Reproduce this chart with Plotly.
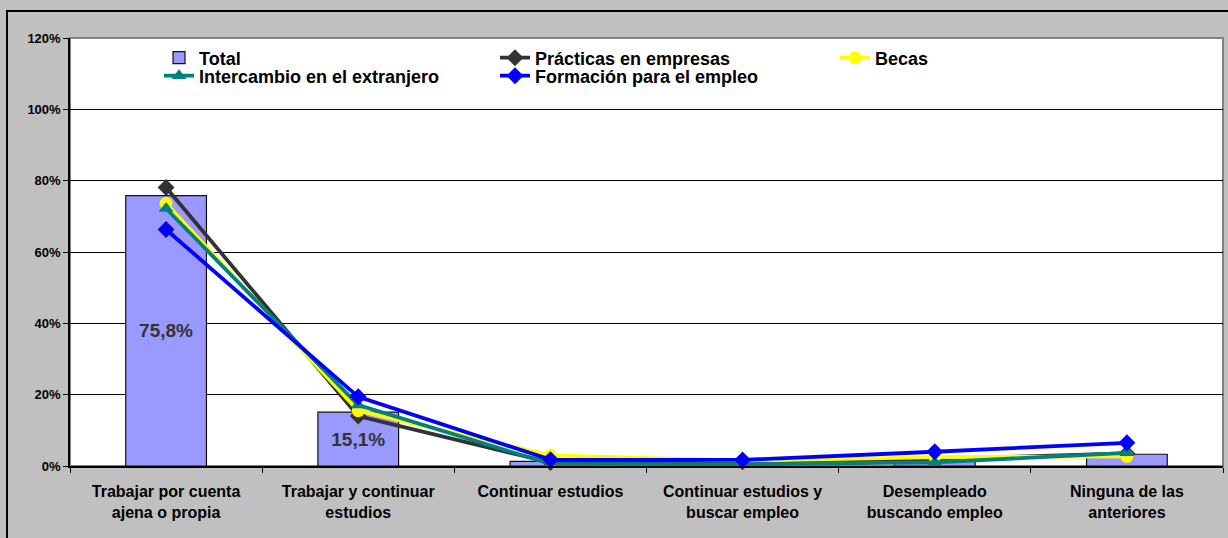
import plotly.graph_objects as go

categories = ["Trabajar por cuenta<br>ajena o propia", "Trabajar y continuar<br>estudios",
              "Continuar estudios", "Continuar estudios y<br>buscar empleo",
              "Desempleado<br>buscando empleo", "Ninguna de las<br>anteriores"]
total = [0.758, 0.151, 0.013, 0.008, 0.017, 0.033]
total_labels = ["75,8%", "15,1%", "", "", "", ""]
practicas = [0.781, 0.140, 0.010, 0.012, 0.020, 0.035]
becas = [0.736, 0.155, 0.030, 0.015, 0.025, 0.027]
intercambio = [0.722, 0.171, 0.006, 0.005, 0.010, 0.037]
formacion = [0.663, 0.194, 0.018, 0.017, 0.040, 0.065]

FONT = "Liberation Sans, Arial"
W, H = 1228, 538
L, R, T, B = 70, 5, 38, 72
PW, PH = W - L - R, H - T - B


def px_x(px):
    return (px - L) / PW


def px_y(py):
    return 1 - (py - T) / PH


fig = go.Figure()
fig.add_trace(go.Bar(
    x=categories, y=total, name="<b>Total</b>", width=0.42, legend="legend",
    marker=dict(color="#9999FF", line=dict(color="#111111", width=1.2)),
    text=total_labels, texttemplate="<b>%{text}</b>",
    textposition="inside", insidetextanchor="middle",
    textfont=dict(family=FONT, size=19, color="#333333"),
    textangle=0,
))
lines = [
    ("Prácticas en empresas", practicas, "#333333", "diamond", "legend2"),
    ("Becas", becas, "#FFFF00", "circle", "legend3"),
    ("Intercambio en el extranjero", intercambio, "#008080", "triangle-up", "legend4"),
    ("Formación para el empleo", formacion, "#0000FF", "diamond", "legend5"),
]
for name, vals, col, sym, lg in lines:
    fig.add_trace(go.Scatter(
        x=categories, y=vals, name="<b>" + name + "</b>", mode="lines+markers",
        line=dict(color=col, width=3.8),
        marker=dict(symbol=sym, size=13, color=col),
        cliponaxis=False, legend=lg,
    ))

# legend positions (text left edge, row centre) in pixels
legend_pos = {
    "legend": (159, 58), "legend2": (495, 58), "legend3": (835, 58),
    "legend4": (159, 76), "legend5": (495, 76),
}
legend_layout = {}
for key, (lx, ly) in legend_pos.items():
    legend_layout[key] = dict(
        x=px_x(lx), y=px_y(ly), xanchor="left", yanchor="middle",
        bgcolor="rgba(0,0,0,0)", borderwidth=0,
        font=dict(family=FONT, size=18, color="#000000"),
    )

fig.update_layout(
    width=W, height=H,
    margin=dict(l=L, r=R, t=T, b=B, autoexpand=False),
    paper_bgcolor="#C0C0C0", plot_bgcolor="#FFFFFF",
    font=dict(family=FONT, color="#000000"),
    showlegend=True,
    xaxis=dict(
        showline=True, linecolor="#000000", linewidth=1.5,
        ticks="outside", ticklen=5, tickcolor="#000000", tickson="boundaries",
        tickfont=dict(family=FONT, size=16, color="#000000"),
        ticklabelstandoff=10,
        showgrid=False,
    ),
    yaxis=dict(
        range=[0, 1.2], dtick=0.2, tickformat=".0%",
        showline=True, linecolor="#000000", linewidth=1.5,
        ticks="outside", ticklen=5, tickcolor="#000000",
        showgrid=True, gridcolor="#000000", gridwidth=1,
        tickfont=dict(family=FONT, size=13, color="#000000"),
        tickprefix="<b>", ticksuffix="</b>",
        zeroline=False,
    ),
    shapes=[
        dict(type="rect", xref="paper", yref="paper", x0=0, x1=1, y0=0, y1=1,
             line=dict(color="#808080", width=2), layer="below"),
        dict(type="rect", xref="paper", yref="paper",
             x0=px_x(7), x1=px_x(1240), y0=px_y(560), y1=px_y(11),
             line=dict(color="#000000", width=2), layer="below"),
    ],
    **legend_layout,
)
fig.update_xaxes(tickprefix="<b>", ticksuffix="</b>")

fig.write_html("out.html", config={"displayModeBar": False},
               post_script="document.body.style.margin='0';")
